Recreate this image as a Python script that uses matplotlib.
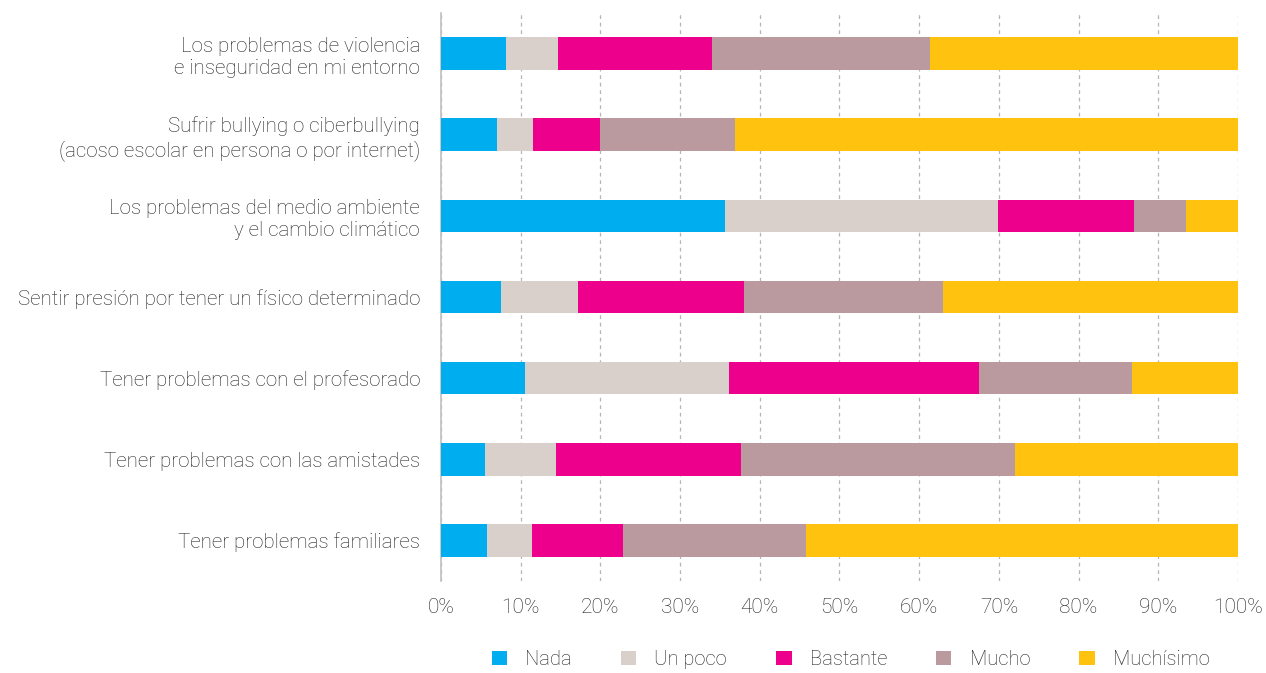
import matplotlib.pyplot as plt
import numpy as np

plt.rcParams['font.family'] = ['Roboto', 'DejaVu Sans']
plt.rcParams['font.weight'] = 'light'

categorias = [
    'Los problemas de violencia\ne inseguridad en mi entorno',
    'Sufrir bullying o ciberbullying\n(acoso escolar en persona o por internet)',
    'Los problemas del medio ambiente\ny el cambio climático',
    'Sentir presión por tener un físico determinado',
    'Tener problemas con el profesorado',
    'Tener problemas con las amistades',
    'Tener problemas familiares',
]
niveles = ['Nada', 'Un poco', 'Bastante', 'Mucho', 'Muchísimo']
nada = [8.2, 7.0, 35.6, 7.5, 10.5, 5.5, 5.8]
un_poco = [6.5, 4.5, 34.3, 9.7, 25.6, 8.9, 5.6]
bastante = [19.3, 8.4, 17.1, 20.8, 31.4, 23.2, 11.4]
mucho = [27.4, 17.0, 6.5, 25.0, 19.2, 34.4, 23.0]
muchisimo = [38.6, 63.1, 6.5, 37.0, 13.3, 28.0, 54.2]
colores = ['#00AEEF', '#D9D0CB', '#EC008C', '#BA9A9E', '#FFC20E']

fig = plt.figure(figsize=(12.66, 6.73), dpi=100)
ax = fig.add_axes([0.3483, 0.1367, 0.6296, 0.844])

y = np.arange(len(categorias))
izq = np.zeros(len(categorias))
for nombre, vals, col in zip(niveles, [nada, un_poco, bastante, mucho, muchisimo], colores):
    ax.barh(y, vals, left=izq, height=0.4, color=col, label=nombre, zorder=3)
    izq += np.array(vals)

ax.set_ylim(6.5, -0.5)
ax.set_xlim(0, 100)
ax.set_yticks(y)
ax.set_yticklabels(categorias, fontsize=14.8, color='#222222')
ax.set_xticks(range(0, 101, 10))
ax.set_xticklabels([f'{v}%' for v in range(0, 101, 10)], fontsize=15, color='#222222')
ax.tick_params(axis='y', length=0, pad=15)
ax.tick_params(axis='x', length=0, pad=12)
ax.grid(axis='x', linestyle=(0, (3, 3)), color='#b5b5b5', lw=0.9, zorder=0)
for s in ['top', 'right', 'bottom']:
    ax.spines[s].set_visible(False)
ax.spines['left'].set_color('#c0c0c0')
ax.spines['left'].set_linewidth(1.2)

fig.legend(loc='center', bbox_to_anchor=(0.672, 0.02), ncol=5, frameon=False,
           fontsize=14.5, handlelength=0.75, handleheight=0.75, handletextpad=0.9,
           columnspacing=2.45, labelcolor='#222222')

plt.savefig('out.png')
plt.close()
